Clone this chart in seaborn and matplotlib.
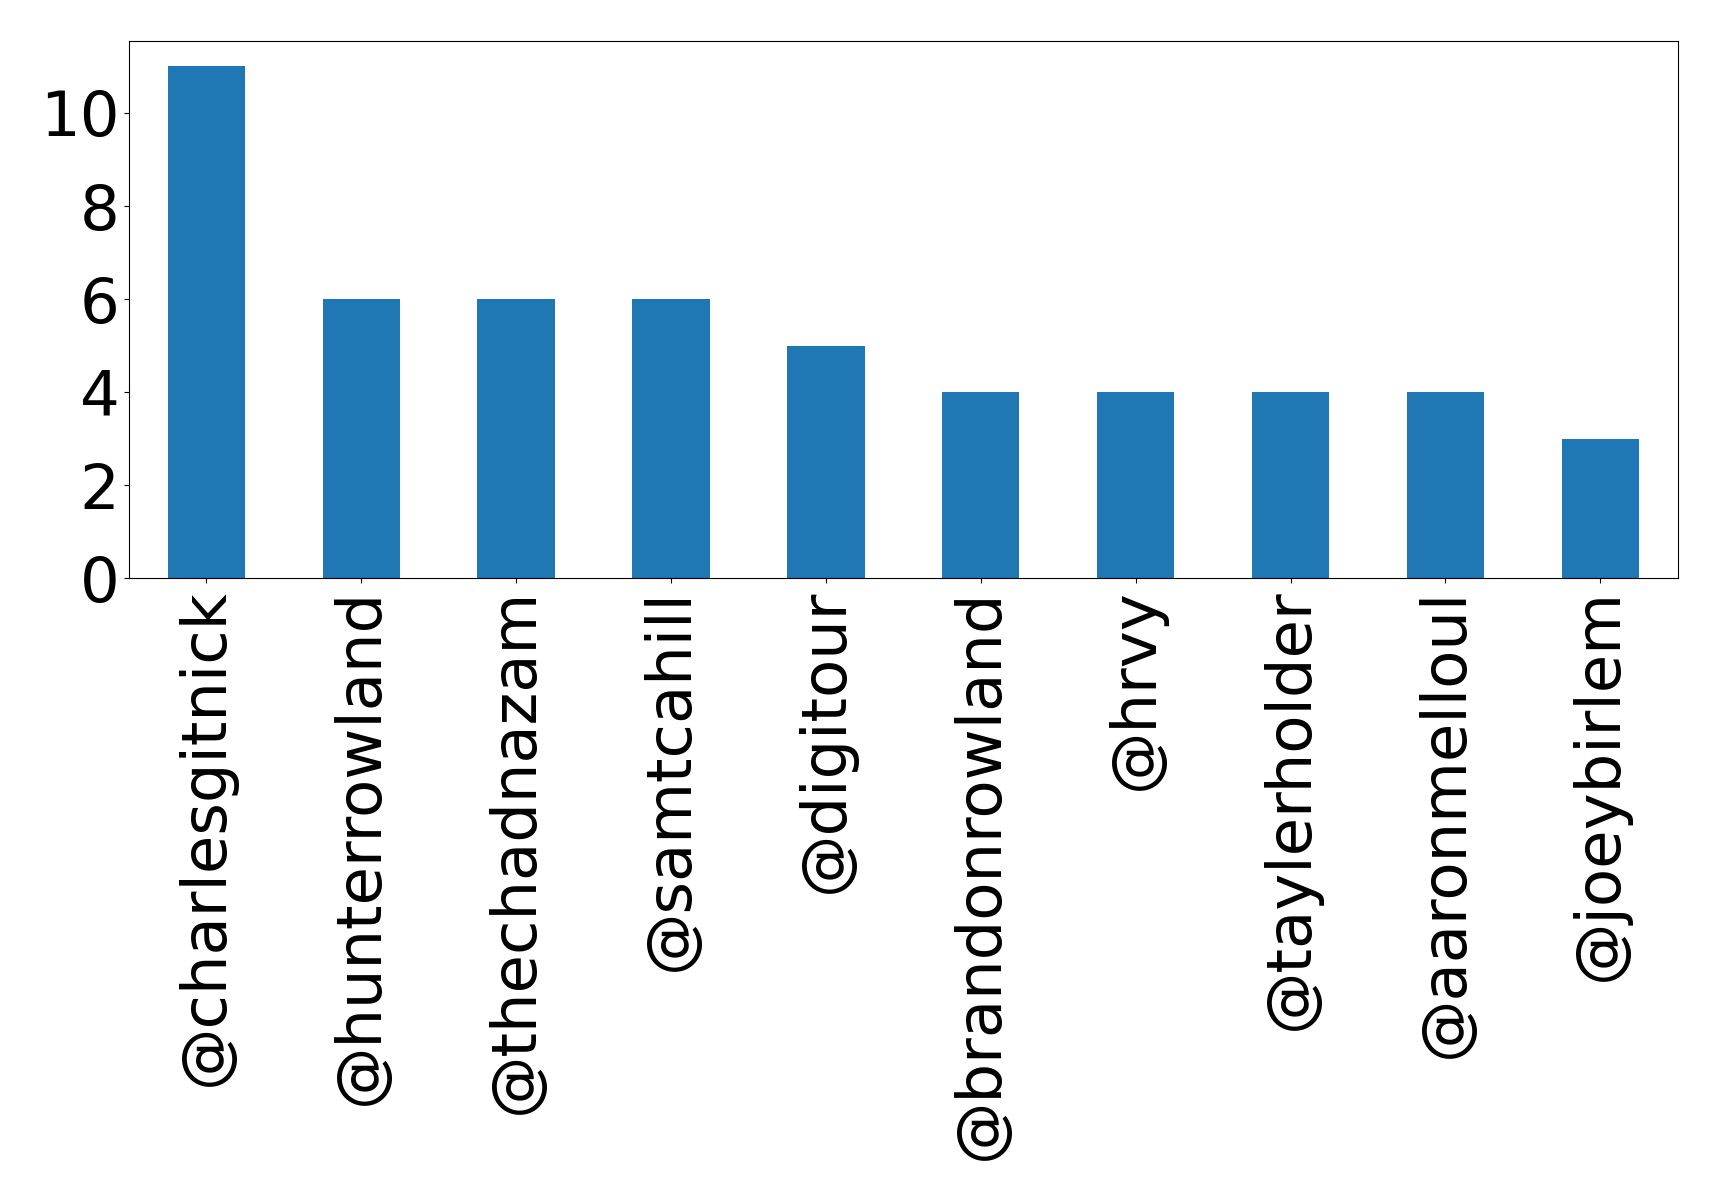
import matplotlib
matplotlib.use("Agg")
import matplotlib.pyplot as plt
from matplotlib.ticker import MultipleLocator
import seaborn as sns
import pandas as pd

users = ['@charlesgitnick', '@hunterrowland', '@thechadnazam', '@samtcahill',
         '@digitour', '@brandonrowland', '@hrvy', '@taylerholder',
         '@aaronmelloul', '@joeybirlem']
counts = [11, 6, 6, 6, 5, 4, 4, 4, 4, 3]

df = pd.DataFrame({'user': users, 'count': counts})

fig, ax = plt.subplots(figsize=(17.19, 12), dpi=100)
sns.barplot(data=df, x='user', y='count', color='#1f77b4', width=0.5,
            saturation=1, ax=ax)
ax.set_xlim(-0.5, len(users) - 0.5)
ax.set_ylim(0, 11.55)
ax.yaxis.set_major_locator(MultipleLocator(2))
ax.set_xlabel('')
ax.set_ylabel('')
ax.tick_params(axis='both', labelsize=45)
ax.tick_params(axis='x', labelrotation=90)
plt.subplots_adjust(left=0.075, right=0.976, top=0.966, bottom=0.518)
fig.savefig('out.png', dpi=100)
